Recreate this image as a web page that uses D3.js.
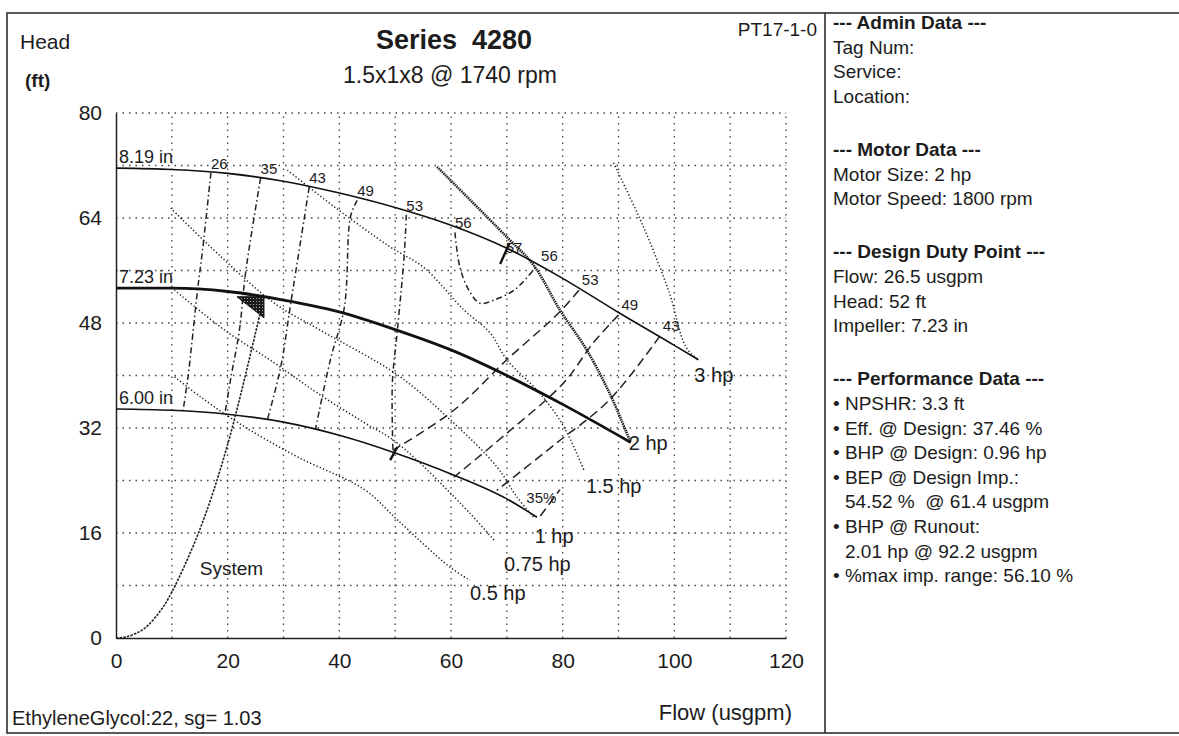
<!DOCTYPE html>
<html>
<head>
<meta charset="utf-8">
<script src="https://cdn.jsdelivr.net/npm/d3@7"></script>
<style>
  body { margin: 0; background: #fff; }
  svg text { font-family: "Liberation Sans", Arial, sans-serif; fill: #1c1c1c; }
</style>
</head>
<body>
<svg id="chart" width="1179" height="736"></svg>
<script>
// ticks and grid
const flowTicks = [0, 20, 40, 60, 80, 100, 120];
const headTicks = [0, 16, 32, 48, 64, 80];
const flowGrid = [10, 20, 30, 40, 50, 60, 70, 80, 90, 100, 110, 120];
const headGrid = [8, 16, 24, 32, 40, 48, 56, 64, 72, 80];

// impeller curves [flow usgpm, head ft]
const impNames = ['8.19 in', '7.23 in', '6.00 in'];
const imp819 = [[0, 71.6], [10, 71.4], [20, 70.8], [30, 69.6], [40, 67.8], [50, 65.6], [60, 62.9], [70, 59.4], [80, 54.8], [90, 49.6], [100, 44.6], [104.3, 42.4]];
const imp723 = [[0, 53.3], [10, 53.3], [20, 52.8], [30, 51.5], [40, 49.7], [50, 47.0], [60, 43.9], [70, 40.0], [80, 35.6], [92.2, 29.8]];
const imp600 = [[0, 34.9], [10, 34.7], [20, 34.1], [30, 32.9], [40, 30.9], [50, 28.2], [60, 25.0], [70, 21.2], [75.4, 18.4]];

// efficiency lines (%)
const effLeftLabels = ['26', '35', '43', '49', '53', '56'];
const eff26 = [[17.0, 70.9], [15.5, 59.1], [14.6, 53.0], [12.9, 39.8], [12.0, 34.6]];
const eff35 = [[25.9, 70.1], [23.2, 55.6], [22.1, 46.9], [20.5, 39.3], [19.5, 34.1]];
const eff43 = [[34.6, 68.7], [31.3, 51.0], [29.5, 41.3], [27.1, 33.2]];
const eff49 = [[43.2, 66.7], [42.0, 64.2], [40.9, 50.4], [38.4, 42.4], [35.7, 31.7]];
const eff53 = [[52.0, 64.5], [51.6, 58.1], [50.4, 46.9], [49.5, 38.9], [49.6, 28.6]];
const eff56 = [[60.7, 61.8], [61.6, 56.5], [63.2, 53.0], [65.2, 51.0], [67.7, 51.5], [71.3, 53.0], [74.8, 56.1], [75.6, 57.0]];
const effRightLabels = ['53', '49', '43'];
const eff53r = [[82.9, 53.0], [79.5, 49.7], [70.0, 42.4], [60.5, 34.7], [49.6, 28.6]];
const eff49r = [[90.0, 49.2], [85.5, 45.0], [80.2, 38.9], [70.0, 31.2], [60.5, 24.5]];
const eff43r = [[97.4, 46.0], [88.4, 36.3], [78.9, 29.7], [68.2, 22.5]];
const eff35r = [[76.0, 18.6], [79.5, 22.6]];
const bepLabel = '57';
const bepTicks = [[[68.8, 57.0], [70.5, 60.2]], [[49.1, 27.1], [50.4, 29.1]]];

// power lines (hp)
const hpLabels = ['0.5 hp', '0.75 hp', '1 hp', '1.5 hp', '2 hp', '3 hp'];
const hp05 = [[10.5, 39.8], [15.2, 36.7], [23.0, 32.2], [32.5, 27.6], [44.5, 22.6], [50.4, 18.0], [59.8, 10.8], [63.4, 8.8]];
const hp075 = [[10.5, 53.0], [19.5, 46.9], [28.4, 41.9], [36.1, 37.3], [44.5, 32.8], [50.4, 29.7], [63.4, 19.0], [67.7, 14.9]];
const hp1 = [[9.8, 65.5], [18.8, 58.1], [28.4, 51.0], [36.6, 46.9], [50.4, 40.1], [59.3, 33.7], [68.2, 26.1], [71.8, 21.5], [74.8, 18.4]];
const hp15 = [[30.7, 71.3], [39.1, 65.7], [49.1, 59.6], [55.2, 56.4], [62.3, 50.0], [67.0, 46.5], [70.0, 42.4], [75.9, 37.3], [80.2, 32.2], [83.8, 25.6]];
const hp2 = [[57.5, 71.8], [70.0, 61.1], [74.8, 56.8], [79.5, 50.0], [84.3, 43.9], [88.4, 37.3], [91.4, 31.4], [92.2, 29.8]];
const hp3 = [[89.1, 72.4], [94.5, 62.6], [99.1, 52.6], [102.1, 44.3], [104.3, 42.4]];

// system curve and duty point
const systemCurve = [[0, 0], [2, 0.2], [5, 1.4], [8, 4.2], [10, 7.0], [15, 16.5], [20, 29.5], [26.5, 52.0]];
const designPoint = [26.5, 52.0];

const panelLines = [
    ['--- Admin Data ---', 1], ['Tag Num:', 0], ['Service:', 0], ['Location:', 0], ['', 0],
    ['--- Motor Data ---', 1], ['Motor Size: 2 hp', 0], ['Motor Speed: 1800 rpm', 0], ['', 0],
    ['--- Design Duty Point ---', 1], ['Flow: 26.5 usgpm', 0], ['Head: 52 ft', 0], ['Impeller: 7.23 in', 0], ['', 0],
    ['--- Performance Data ---', 1], ['• NPSHR: 3.3 ft', 0], ['• Eff. @ Design: 37.46 %', 0], ['• BHP @ Design: 0.96 hp', 0],
    ['• BEP @ Design Imp.:', 0], ['54.52 %  @ 61.4 usgpm', 2], ['• BHP @ Runout:', 0], ['2.01 hp @ 92.2 usgpm', 2],
    ['• %max imp. range: 56.10 %', 0],
];

const svg = d3.select('#chart');
const x = d3.scaleLinear().domain([0, 120]).range([116, 786]);
const y = d3.scaleLinear().domain([0, 80]).range([638, 113]);
const line = d3.line().x(d => x(d[0])).y(d => y(d[1]));
const smooth = d3.line().x(d => x(d[0])).y(d => y(d[1])).curve(d3.curveCatmullRom);
const sepX = 825;

// frame (right side runs off the page like the scan)
svg.append('rect').attr('x', 7).attr('y', 13).attr('width', 1180).attr('height', 720)
    .attr('fill', 'none').attr('stroke', '#222').attr('stroke-width', 1.5);
svg.append('line').attr('x1', sepX).attr('x2', sepX).attr('y1', 13).attr('y2', 733)
    .attr('stroke', '#222').attr('stroke-width', 1.5);

// grid
const grid = svg.append('g').attr('stroke', '#444').attr('stroke-width', 1.3).attr('stroke-dasharray', '1.5,5');
grid.selectAll('.gv').data(flowGrid).join('line').attr('x1', d => x(d)).attr('x2', d => x(d)).attr('y1', y(0)).attr('y2', y(80));
grid.selectAll('.gh').data(headGrid).join('line').attr('y1', d => y(d)).attr('y2', d => y(d)).attr('x1', x(0)).attr('x2', x(120));

// axes
const yAxis = svg.append('g').attr('transform', `translate(${x(0)},0)`)
    .call(d3.axisLeft(y).tickValues(headTicks).tickSize(0).tickSizeOuter(0).tickPadding(14));
const xAxis = svg.append('g').attr('transform', `translate(0,${y(0)})`)
    .call(d3.axisBottom(x).tickValues(flowTicks).tickSize(0).tickSizeOuter(0).tickPadding(15));
[xAxis, yAxis].forEach(a => {
    a.select('.domain').attr('stroke', '#222').attr('stroke-width', 1.5);
    a.selectAll('text').attr('font-size', 21).attr('font-family', '"Liberation Sans", Arial, sans-serif').attr('fill', '#1c1c1c');
});

// power lines
const hpSets = [hp05, hp075, hp1, hp15, hp2, hp3];
const hpLabelOffsets = [[0, 20], [10, 31], [1, 26], [2, 23], [-2, 8], [-4, 22]];
svg.append('g').selectAll('path').data(hpSets).join('path')
    .attr('d', smooth).attr('fill', 'none').attr('stroke', '#222')
    .attr('stroke-width', (d, i) => i === 4 ? 2.6 : 1.5)
    .attr('stroke-dasharray', (d, i) => i === 4 ? '1.5,0.8' : '1.3,2.2');
svg.append('g').selectAll('text').data(hpSets).join('text')
    .attr('x', (d, i) => x(d[d.length - 1][0]) + hpLabelOffsets[i][0])
    .attr('y', (d, i) => y(d[d.length - 1][1]) + hpLabelOffsets[i][1])
    .attr('font-size', 20).text((d, i) => hpLabels[i]);

// efficiency lines
const effLeft = [eff26, eff35, eff43, eff49, eff53, eff56];
const effRight = [eff53r, eff49r, eff43r, eff35r];
svg.append('g').selectAll('path').data(effLeft).join('path')
    .attr('d', smooth).attr('fill', 'none').attr('stroke', '#222').attr('stroke-width', 1.5)
    .attr('stroke-dasharray', '6,3,1.5,3');
svg.append('g').selectAll('path').data(effRight).join('path')
    .attr('d', smooth).attr('fill', 'none').attr('stroke', '#222').attr('stroke-width', 1.5)
    .attr('stroke-dasharray', '9,5');
svg.append('g').selectAll('text').data(effLeft).join('text')
    .attr('x', d => x(d[0][0])).attr('y', d => y(d[0][1]) - 4)
    .attr('font-size', 15).text((d, i) => effLeftLabels[i]);
svg.append('text').attr('x', x(eff56[eff56.length - 1][0]) + 3).attr('y', y(eff56[eff56.length - 1][1]) - 3)
    .attr('font-size', 15).text('56');
svg.append('g').selectAll('text').data(effRight.slice(0, 3)).join('text')
    .attr('x', d => x(d[0][0]) + 3).attr('y', d => y(d[0][1]) - 5)
    .attr('font-size', 15).text((d, i) => effRightLabels[i]);
svg.append('text').attr('x', x(eff35r[0][0]) - 14).attr('y', y(eff35r[0][1]) - 13)
    .attr('font-size', 15).text('35%');
svg.append('g').selectAll('path').data(bepTicks).join('path')
    .attr('d', line).attr('stroke', '#111').attr('stroke-width', 2.4);
svg.append('text').attr('x', x(bepTicks[0][1][0]) - 4).attr('y', y(bepTicks[0][1][1]) + 10)
    .attr('font-size', 15).text(bepLabel);

// system curve
svg.append('path').attr('d', smooth(systemCurve)).attr('fill', 'none')
    .attr('stroke', '#222').attr('stroke-width', 1.6).attr('stroke-dasharray', '2.5,1.2');

// impeller curves
const imps = [imp819, imp723, imp600];
svg.append('g').selectAll('path').data(imps).join('path')
    .attr('d', d => line.curve(d3.curveMonotoneX)(d)).attr('fill', 'none').attr('stroke', '#111')
    .attr('stroke-width', (d, i) => i === 1 ? 2.8 : 1.6);
svg.append('g').selectAll('text').data(imps).join('text')
    .attr('x', d => x(d[0][0]) + 3).attr('y', d => y(d[0][1]) - 5)
    .attr('font-size', 18).text((d, i) => impNames[i]);

// duty point marker
const defs = svg.append('defs');
const pat = defs.append('pattern').attr('id', 'stip').attr('width', 3).attr('height', 3).attr('patternUnits', 'userSpaceOnUse');
pat.append('rect').attr('width', 3).attr('height', 3).attr('fill', '#1a1a1a');
pat.append('circle').attr('cx', 1.5).attr('cy', 1.5).attr('r', 0.6).attr('fill', '#bbb');
const dx = x(designPoint[0]), dy = y(designPoint[1]);
svg.append('path').attr('d', `M${dx},${dy}L${dx - 27},${dy}L${dx},${dy + 21}Z`)
    .attr('fill', 'url(#stip)').attr('stroke', '#111').attr('stroke-width', 1);

// labels
svg.append('text').attr('x', 454).attr('y', 49).attr('text-anchor', 'middle')
    .attr('font-size', 27).attr('font-weight', 'bold').attr('xml:space', 'preserve').text('Series  4280');
svg.append('text').attr('x', 450).attr('y', 83).attr('text-anchor', 'middle')
    .attr('font-size', 23).text('1.5x1x8 @ 1740 rpm');
svg.append('text').attr('x', 817).attr('y', 36).attr('text-anchor', 'end')
    .attr('font-size', 19).text('PT17-1-0');
svg.append('text').attr('x', 20).attr('y', 49).attr('font-size', 21).text('Head');
svg.append('text').attr('x', 25).attr('y', 87).attr('font-size', 19).attr('font-weight', 'bold').text('(ft)');
svg.append('text').attr('x', 792).attr('y', 720).attr('text-anchor', 'end')
    .attr('font-size', 22).text('Flow (usgpm)');
svg.append('text').attr('x', 12).attr('y', 725).attr('font-size', 20).text('EthyleneGlycol:22, sg= 1.03');
svg.append('text').attr('x', x(15)).attr('y', y(9.6)).attr('font-size', 19).text('System');

// right panel
let blanks = 0;
const panelY = panelLines.map((d, i) => {
    if (d[0] === '') blanks += 1;
    return 29 + i * 24.6 + blanks * 4;
});
svg.append('g').selectAll('text').data(panelLines).join('text')
    .attr('x', d => d[1] === 2 ? sepX + 20 : sepX + 8)
    .attr('y', (d, i) => panelY[i])
    .attr('font-size', 19).attr('font-weight', d => d[1] === 1 ? 'bold' : 'normal')
    .attr('xml:space', 'preserve').text(d => d[0]);
</script>
</body>
</html>
